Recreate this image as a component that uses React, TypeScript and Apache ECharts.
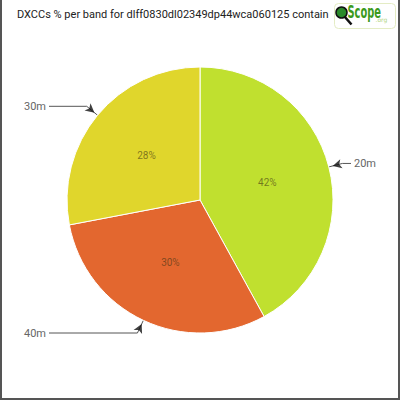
import { useEffect, useRef } from "react";
import * as echarts from "echarts";

const bands = ["20m", "40m", "30m"];
const counts = [42, 30, 28];
const sliceColors = ["#c0e02f", "#e3672f", "#e0d62c"];
const titleText = "DXCCs % per band for dlff0830dl02349dp44wca060125 contain";

export default function App() {
  const containerRef = useRef<HTMLDivElement>(null);

  useEffect(() => {
    if (!containerRef.current) return;
    const chart = echarts.init(containerRef.current, undefined, { renderer: "svg" });

    const total = counts.reduce((a, b) => a + b, 0);
    let acc = 0;
    const arrowPoints = counts.map((v) => {
      const mid = acc + v / 2;
      acc += v;
      // math angle of the slice middle (start at top, clockwise)
      const deg = 90 - (mid / total) * 360;
      return { value: [1.03, mid], symbolRotate: deg + 90 };
    });

    chart.setOption({
      animation: false,
      title: {
        text: titleText,
        left: 17,
        top: 9,
        padding: 0,
        textStyle: {
          fontFamily: "Roboto",
          fontSize: 11,
          fontWeight: "normal",
          color: "#222",
        },
      },
      polar: { center: ["50%", "50%"], radius: 133 * 1.2 },
      angleAxis: { type: "value", min: 0, max: total, startAngle: 90, clockwise: true, show: false },
      radiusAxis: { type: "value", min: 0, max: 1.2, show: false },
      series: [
        {
          type: "pie",
          center: ["50%", "50%"],
          radius: 133,
          startAngle: 90,
          clockwise: true,
          silent: true,
          data: bands.map((b, i) => ({ name: b, value: counts[i] })),
          color: sliceColors,
          itemStyle: { borderColor: "#fff", borderWidth: 1 },
          label: {
            position: "inside",
            formatter: (p: any) => Math.round(p.percent) + "%",
            fontFamily: "Roboto",
            fontSize: 10,
            color: "rgba(60,50,20,0.6)",
          },
          labelLine: { show: false },
        },
        {
          type: "pie",
          center: ["50%", "50%"],
          radius: 133,
          startAngle: 90,
          clockwise: true,
          silent: true,
          data: bands.map((b, i) => ({ name: b, value: counts[i] })),
          itemStyle: { color: "transparent" },
          label: {
            position: "outside",
            alignTo: "edge",
            edgeDistance: 24,
            distanceToLabelLine: 3,
            formatter: "{b}",
            fontFamily: "Roboto",
            fontSize: 11,
            color: "#666",
          },
          labelLine: {
            show: true,
            length: 14,
            length2: 3,
            lineStyle: { color: "#555", width: 1 },
          },
        },
        {
          type: "scatter",
          coordinateSystem: "polar",
          silent: true,
          z: 5,
          symbol: "arrow",
          symbolSize: [7, 9],
          itemStyle: { color: "#111" },
          data: arrowPoints,
        },
      ],
      graphic: [
        {
          type: "group",
          left: 334,
          top: 3,
          children: [
            {
              type: "rect",
              shape: { x: 0, y: 0, width: 61, height: 25, r: 4 },
              style: { fill: "#fff", stroke: "#e4ecc4", lineWidth: 1 },
            },
            {
              type: "line",
              shape: { x1: 10, y1: 13, x2: 17, y2: 21 },
              style: { stroke: "#111", lineWidth: 2.5 },
            },
            {
              type: "circle",
              shape: { cx: 7, cy: 9, r: 5.5 },
              style: { fill: "#2a8a2a", stroke: "#111", lineWidth: 1.5 },
            },
            {
              type: "text",
              x: 13,
              y: 0,
              scaleX: 0.58,
              style: {
                text: "Scope",
                fill: "#3c9a1c",
                font: "bold 17px 'DejaVu Sans'",
                verticalAlign: "top",
              },
            },
            {
              type: "text",
              x: 41,
              y: 13,
              style: {
                text: ".org",
                fill: "#b0d480",
                font: "6px 'DejaVu Sans'",
                verticalAlign: "top",
              },
            },
          ],
        },
      ],
    });

    return () => {
      chart.dispose();
    };
  }, []);

  return (
    <>
      <div
        ref={containerRef}
        style={{ position: "fixed", left: 0, top: 0, width: "400px", height: "400px", background: "#fff" }}
      />
      <div
        style={{
          position: "fixed",
          left: 0,
          top: 0,
          width: "400px",
          height: "400px",
          boxSizing: "border-box",
          borderLeft: "2px solid #555",
          borderRight: "2px solid #555",
          borderBottom: "2px solid #555",
          pointerEvents: "none",
        }}
      />
    </>
  );
}
